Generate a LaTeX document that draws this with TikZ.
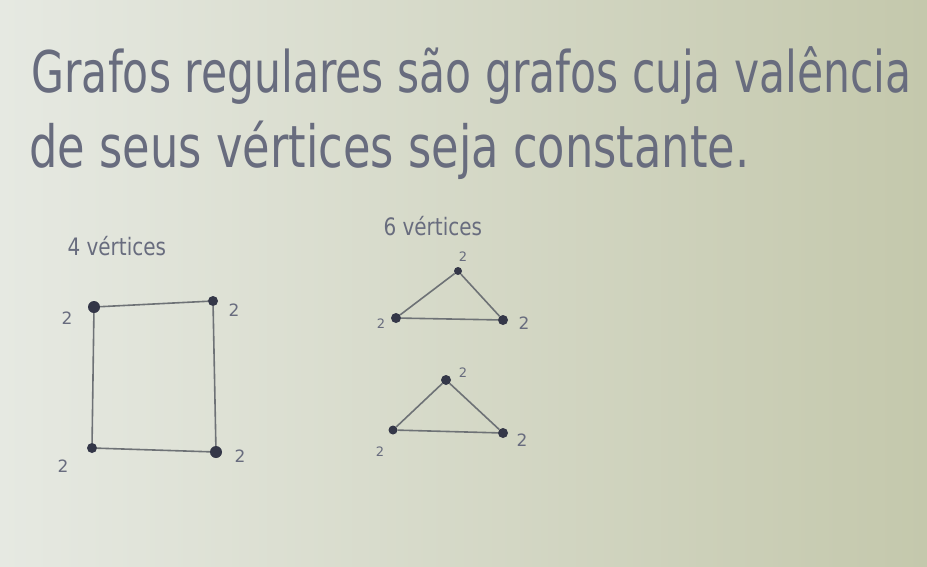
\documentclass[tikz,border=0pt]{standalone}
\usepackage{fontspec}
\setmainfont{DejaVu Sans}
\begin{document}
\begin{tikzpicture}[x=1pt,y=-1pt,
  ink/.style={text=inkc},
  vtx/.style={circle,fill=dotc,inner sep=0pt,minimum size=12pt},
  edge/.style={draw=edgec,line width=1.6pt},
  lbl/.style={text=inkc,font=\fontsize{17}{19}\selectfont}]
\definecolor{inkc}{RGB}{104,108,126}
\definecolor{dotc}{RGB}{52,55,72}
\definecolor{edgec}{RGB}{110,114,118}
\definecolor{paperL}{RGB}{230,233,226}
\definecolor{paperR}{RGB}{196,200,172}
\useasboundingbox (0,0) rectangle (927,566);
\shade[left color=paperL,right color=paperR] (0,0) rectangle (927,566);
% text
\node[ink,anchor=west] (t1) at (28,76) {\resizebox{880pt}{!}{\scalebox{1}[1.35]{\fontsize{40}{44}\selectfont Grafos regulares são grafos cuja valência}}};
\node[ink,anchor=west] (t2) at (26,150) {\resizebox{720pt}{!}{\scalebox{1}[1.3]{\fontsize{40}{44}\selectfont de seus vértices seja constante.}}};
\node[ink,anchor=west,font=\fontsize{20}{24}\selectfont] (c4) at (64,246) {\scalebox{1}[1.2]{4 vértices}};
\node[ink,anchor=west,font=\fontsize{20}{24}\selectfont] (c6) at (380,226) {\scalebox{1}[1.2]{6 vértices}};
% square
\node[vtx] (a) at (94,307) {};
\node[vtx,minimum size=10pt] (b) at (213,301) {};
\node[vtx,minimum size=10pt] (c) at (92,448) {};
\node[vtx] (d) at (216,452) {};
\draw[edge] (a) -- (b) -- (d) -- (c) -- (a);
\node[lbl] (la) at (67,318) {2};
\node[lbl] (lb) at (234,310) {2};
\node[lbl] (lc) at (63,466) {2};
\node[lbl] (ld) at (240,456) {2};
% triangle 1
\node[vtx,minimum size=8pt] (p) at (458,271) {};
\node[vtx,minimum size=10pt] (q) at (396,318) {};
\node[vtx,minimum size=10pt] (r) at (503,320) {};
\draw[edge] (p) -- (q) -- (r) -- (p);
\node[lbl,font=\fontsize{13}{15}\selectfont] (lp) at (463,257) {2};
\node[lbl,font=\fontsize{13}{15}\selectfont] (lq) at (381,324) {2};
\node[lbl] (lr) at (524,323) {2};
% triangle 2
\node[vtx,minimum size=10pt] (u) at (446,380) {};
\node[vtx,minimum size=9pt] (v) at (393,430) {};
\node[vtx,minimum size=10pt] (w) at (503,433) {};
\draw[edge] (u) -- (v) -- (w) -- (u);
\node[lbl,font=\fontsize{13}{15}\selectfont] (lu) at (463,373) {2};
\node[lbl,font=\fontsize{13}{15}\selectfont] (lv) at (380,452) {2};
\node[lbl] (lw) at (522,440) {2};
\end{tikzpicture}
\end{document}
